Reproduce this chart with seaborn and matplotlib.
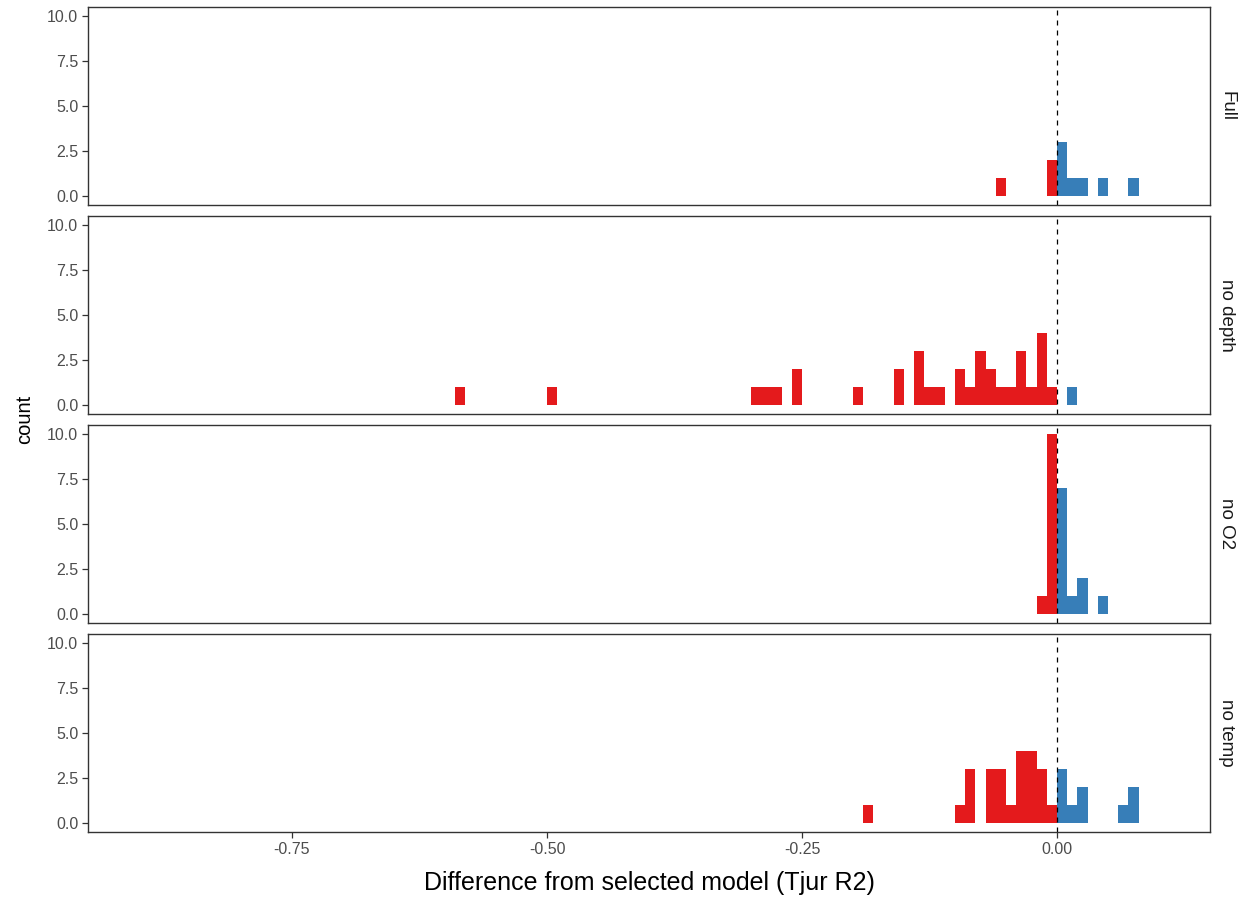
import numpy as np
import pandas as pd
import matplotlib
matplotlib.use("Agg")
import matplotlib.pyplot as plt
import seaborn as sns

# ---- data: differences from selected model (Tjur R2), one value per model run ----
models = ["Full", "no depth", "no O2", "no temp"]

full_vals = [-0.055, -0.005, -0.005,
             0.005, 0.005, 0.005, 0.015, 0.025, 0.045, 0.075]

nodepth_vals = [-0.585, -0.495, -0.295, -0.285, -0.275,
                -0.255, -0.255, -0.195, -0.155, -0.155,
                -0.135, -0.135, -0.135, -0.125, -0.115,
                -0.095, -0.095, -0.085, -0.075, -0.075, -0.075,
                -0.065, -0.065, -0.055, -0.045,
                -0.035, -0.035, -0.035, -0.025,
                -0.015, -0.015, -0.015, -0.015, -0.005, 0.015]

noO2_vals = [-0.015] + [-0.005] * 10 + [0.005] * 7 + [0.015, 0.025, 0.025, 0.045]

notemp_vals = [-0.185, -0.095, -0.085, -0.085, -0.085,
               -0.065, -0.065, -0.065, -0.055, -0.055, -0.055,
               -0.045, -0.035, -0.035, -0.035, -0.035,
               -0.025, -0.025, -0.025, -0.025,
               -0.015, -0.015, -0.015, -0.005,
               0.005, 0.005, 0.005, 0.015, 0.025, 0.025,
               0.065, 0.075, 0.075]

x_ticks = [-0.75, -0.50, -0.25, 0.00]
y_ticks = [0.0, 2.5, 5.0, 7.5, 10.0]
neg_color = "#E41A1C"
pos_color = "#377EB8"

frames = []
for name, vals in zip(models, [full_vals, nodepth_vals, noO2_vals, notemp_vals]):
    frames.append(pd.DataFrame({"model": name, "diff": vals}))
df = pd.concat(frames, ignore_index=True)
df["better"] = np.where(df["diff"] > 0, "pos", "neg")

bin_edges = np.round(np.arange(-0.60, 0.1001, 0.01), 4)

sns.set_theme(style="white")
plt.rcParams["font.family"] = ["Liberation Sans", "DejaVu Sans"]

fig, axes = plt.subplots(4, 1, figsize=(12.48, 8.98), dpi=100, sharex=True)
fig.subplots_adjust(left=88 / 1248, right=1210 / 1248, top=1 - 7 / 898,
                    bottom=1 - 832 / 898, hspace=11 / 198)

for ax, name in zip(axes, models):
    sub = df[df["model"] == name]
    sns.histplot(data=sub, x="diff", hue="better", bins=bin_edges,
                 palette={"neg": neg_color, "pos": pos_color},
                 hue_order=["neg", "pos"], multiple="layer", alpha=1,
                 edgecolor="none", linewidth=0, legend=False, ax=ax)
    ax.axvline(0, color="black", linestyle=(0, (4, 4)), linewidth=0.9)
    ax.set_xlim(-0.95, 0.15)
    ax.set_ylim(-0.5, 10.5)
    ax.set_yticks(y_ticks)
    ax.set_yticklabels([f"{v:.1f}" for v in y_ticks])
    ax.set_xticks(x_ticks)
    ax.set_xticklabels([f"{v:.2f}" for v in x_ticks])
    ax.set_ylabel("")
    ax.set_xlabel("")
    for s in ax.spines.values():
        s.set_color("#333333")
        s.set_linewidth(1.0)
    ax.tick_params(axis="both", which="both", length=4, width=0.9,
                   color="#333333", labelsize=11.5, labelcolor="#4D4D4D",
                   left=True, bottom=True, pad=3)
    ax.text(1.015, 0.5, name, transform=ax.transAxes, rotation=-90,
            ha="center", va="center", fontsize=13.5, color="#1A1A1A")

for ax in axes[:-1]:
    ax.tick_params(axis="x", bottom=False, labelbottom=False)

fig.text(25 / 1248, 0.5 * ((1 - 7 / 898) + (1 - 832 / 898)), "count",
         rotation=90, ha="center", va="center", fontsize=14.5, color="black")
fig.text(0.5 * (88 + 1210) / 1248, 1 - 883 / 898,
         "Difference from selected model (Tjur R2)",
         ha="center", va="center", fontsize=18, color="black")

fig.savefig("out.png", dpi=100)
